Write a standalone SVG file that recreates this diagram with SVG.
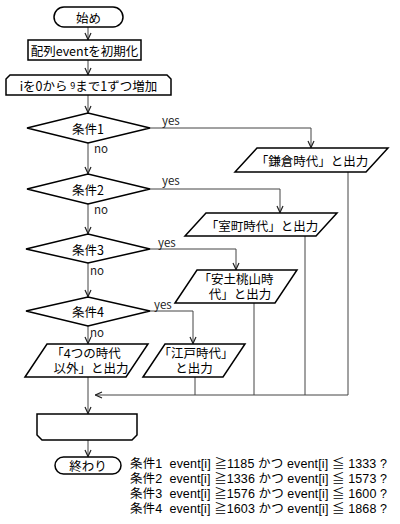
<svg xmlns="http://www.w3.org/2000/svg" width="400" height="524" viewBox="0 0 400 524">
<style>
  .shape { fill: #fff; stroke: #000; stroke-width: 1.5; }
  .conn { fill: none; stroke: #444; stroke-width: 1; }
  text { font-family: "Noto Sans CJK JP", "Liberation Sans", sans-serif; fill: #000; }
  .lbl { font-size: 12.5px; text-anchor: middle; dominant-baseline: central; }
  .ml { font-family: "Liberation Sans", "Noto Sans CJK JP", sans-serif; font-size: 12.5px; text-anchor: middle; }
  .yn { font-size: 11.5px; fill: #222; }
  .cond { font-family: "Liberation Sans", "Noto Sans CJK JP", sans-serif; font-size: 12.5px; }
</style>
<defs>
  <marker id="arr" viewBox="0 0 8 8" refX="8" refY="4" markerWidth="8" markerHeight="8" markerUnits="userSpaceOnUse" orient="auto">
    <path d="M1,1 L7.5,4 L1,7" fill="none" stroke="#222" stroke-width="1.2"/>
  </marker>
</defs>
<rect width="400" height="524" fill="#fff"/>

<g id="connectors">
  <line class="conn" x1="88" y1="27" x2="88" y2="40" marker-end="url(#arr)"/>
  <line class="conn" x1="88" y1="60" x2="88" y2="75" marker-end="url(#arr)"/>
  <line class="conn" x1="88" y1="95" x2="88" y2="113" marker-end="url(#arr)"/>
  <line class="conn" x1="88" y1="143" x2="88" y2="174" marker-end="url(#arr)"/>
  <line class="conn" x1="88" y1="204" x2="88" y2="234" marker-end="url(#arr)"/>
  <line class="conn" x1="88" y1="263" x2="88" y2="297" marker-end="url(#arr)"/>
  <line class="conn" x1="88" y1="326" x2="88" y2="344" marker-end="url(#arr)"/>
  <line class="conn" x1="88" y1="377" x2="88" y2="414" marker-end="url(#arr)"/>
  <line class="conn" x1="88" y1="440" x2="88" y2="457" marker-end="url(#arr)"/>
  <polyline class="conn" points="150,128 311,128 311,148" marker-end="url(#arr)"/>
  <polyline class="conn" points="150,189 280,189 280,213" marker-end="url(#arr)"/>
  <polyline class="conn" points="150,249 236,249 236,270" marker-end="url(#arr)"/>
  <polyline class="conn" points="150,311 193,311 193,344" marker-end="url(#arr)"/>
  <line class="conn" x1="348" y1="172" x2="348" y2="395"/>
  <line class="conn" x1="305" y1="236" x2="305" y2="395"/>
  <line class="conn" x1="254" y1="303" x2="254" y2="395"/>
  <line class="conn" x1="195" y1="377" x2="195" y2="395"/>
  <line class="conn" x1="348" y1="395" x2="95" y2="395" marker-end="url(#arr)"/>
  <text class="yn" x="162" y="125">yes</text>
  <text class="yn" x="162" y="185">yes</text>
  <text class="yn" x="158" y="247">yes</text>
  <text class="yn" x="154" y="309">yes</text>
  <text class="yn" x="94" y="153">no</text>
  <text class="yn" x="94" y="214">no</text>
  <text class="yn" x="90" y="275">no</text>
  <text class="yn" x="90" y="337">no</text>
</g>

<g id="start">
  <rect class="shape" x="54" y="7" width="69" height="20" rx="10"/>
  <text class="lbl" x="88.5" y="17">始め</text>
</g>
<g id="init">
  <rect class="shape" x="28" y="40" width="113" height="20" stroke-width="2"/>
  <text class="lbl" x="84.5" y="50">配列eventを初期化</text>
</g>
<g id="loopStart">
  <path class="shape" d="M6,95 L6,79 L10,75 L167,75 L171,79 L171,95 Z"/>
  <text class="lbl" x="88.5" y="85">iを0から <tspan font-size="9">9</tspan>まで1ずつ増加</text>
</g>
<g id="cond1">
  <polygon class="shape" points="27,128 88,113 150,128 88,143"/>
  <text class="lbl" x="88" y="128">条件1</text>
</g>
<g id="cond2">
  <polygon class="shape" points="27,189 88,174 150,189 88,204"/>
  <text class="lbl" x="88" y="189">条件2</text>
</g>
<g id="cond3">
  <polygon class="shape" points="26,249 88,234 150,249 88,263"/>
  <text class="lbl" x="88" y="249">条件3</text>
</g>
<g id="cond4">
  <polygon class="shape" points="26,311 88,297 150,311 88,326"/>
  <text class="lbl" x="88" y="311">条件4</text>
</g>
<g id="outKamakura">
  <polygon class="shape" points="235,172 257,148 388,148 366,172"/>
  <text class="lbl" x="312" y="160">「鎌倉時代」と出力</text>
</g>
<g id="outMuromachi">
  <polygon class="shape" points="185,236 206,213 337,213 316,236"/>
  <text class="lbl" x="262" y="225">「室町時代」と出力</text>
</g>
<g id="outAzuchi">
  <polygon class="shape" points="175,303 197,270 297,270 275,303"/>
  <text class="ml"><tspan x="236" y="283.5">「安土桃山時</tspan><tspan x="240" y="299">代」と出力</tspan></text>
</g>
<g id="outEdo">
  <polygon class="shape" points="143,377 165,344 245,344 223,377"/>
  <text class="ml"><tspan x="196" y="357.5">「江戸時代」</tspan><tspan x="194" y="373">と出力</tspan></text>
</g>
<g id="outOther">
  <polygon class="shape" points="25,377 47,344 148,344 126,377"/>
  <text class="ml"><tspan x="86" y="357.5">「4つの時代</tspan><tspan x="91" y="373">以外」と出力</tspan></text>
</g>
<g id="loopEnd">
  <path class="shape" d="M37,414 L137,414 L137,435 L132,440 L42,440 L37,435 Z"/>
</g>
<g id="end">
  <rect class="shape" x="55" y="457" width="66" height="17" rx="8.5"/>
  <text class="lbl" x="88" y="465.5">終わり</text>
</g>
<g id="conditions">
  <text class="cond" xml:space="preserve" x="130" y="468" textLength="257" lengthAdjust="spacing">条件1  event[i] ≧1185 かつ event[i] ≦ 1333 ?</text>
  <text class="cond" xml:space="preserve" x="130" y="483" textLength="257" lengthAdjust="spacing">条件2  event[i] ≧1336 かつ event[i] ≦ 1573 ?</text>
  <text class="cond" xml:space="preserve" x="130" y="498" textLength="257" lengthAdjust="spacing">条件3  event[i] ≧1576 かつ event[i] ≦ 1600 ?</text>
  <text class="cond" xml:space="preserve" x="130" y="513" textLength="257" lengthAdjust="spacing">条件4  event[i] ≧1603 かつ event[i] ≦ 1868 ?</text>
</g>
</svg>
